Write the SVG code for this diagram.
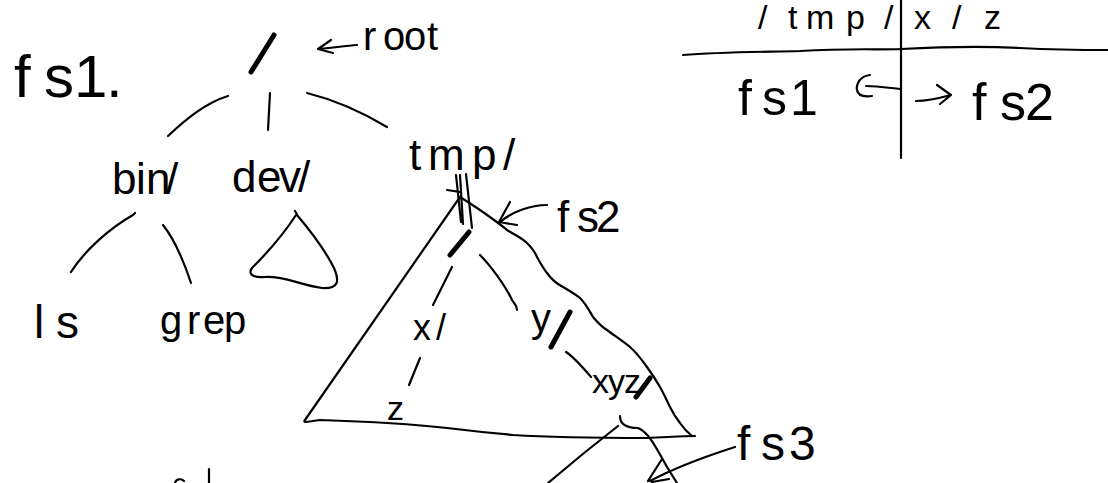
<svg xmlns="http://www.w3.org/2000/svg" width="1108" height="483" viewBox="0 0 1108 483">
<style>
.s{fill:none;stroke:#000;stroke-width:2.2;stroke-linecap:round;stroke-linejoin:round}
.k{stroke-width:5}
.t{font-family:"Liberation Sans",Arial,sans-serif;fill:#000}
</style>
<rect width="1108" height="483" fill="#fff"/>
<g id="label-fs1"><text class="t" font-size="60" x="14 44 74 106" y="97">fs1.</text></g>
<g id="node-root">
<path class="s k" d="M251 72 L274 35"/>
<text class="t" font-size="40" x="363 383 404 427" y="50">root</text>
<path class="s" d="M357 45 C345 46 330 48 318 49 M331 40 L318 49 L333 53"/>
</g>
<g id="node-bin"><text class="t" font-size="44" x="112 136 146 166" y="194">bin/</text></g>
<g id="node-dev"><text class="t" font-size="44" x="232 257 279 298" y="192">dev/</text></g>
<g id="node-tmp"><text class="t" font-size="44" x="409 428 472 503" y="170">tmp/</text></g>
<g id="node-ls"><text class="t" font-size="46" x="34 56" y="338">ls</text></g>
<g id="node-grep"><text class="t" font-size="40" x="160 187 203 224" y="334">grep</text></g>
<g id="node-dev-subtree"><path class="s" d="M295 211 C297 214 297 215 296 215 C285 232 268 252 252 268 C247 275 255 278 265 277 C285 276 300 285 322 288 C338 289 340 282 334 268 C324 248 308 228 297 215"/></g>
<g id="node-fs2">
<path class="s" d="M460 197 L305 420 C302 424 310 421 320 420 C380 422 420 425 447 428 C480 432 513 435 513 435 C560 438 620 438 647 438 C670 437 685 436 695 436"/>
<path class="s" d="M460 197 C468 202 474 206 480 210 C490 217 500 224 507 230 C515 235 522 238 527 243 C532 248 535 252 537 257 C541 264 543 268 547 273 C552 280 557 284 563 287 C570 291 575 294 580 298 C586 304 589 310 593 317 C598 323 602 327 607 330 C615 336 623 341 630 347 C637 353 642 360 647 367 C652 374 656 380 660 387 C664 394 667 401 670 407 C673 413 676 418 680 423 C684 429 687 432 692 436"/>
<path class="s" d="M456 175 L461 222 M460 175 L463 224 M466 174 L472 228 M447 190 L460 192"/>
<path class="s k" d="M450 255 L469 232"/>
<text class="t" font-size="44" x="557 577 596" y="232">fs2</text>
<path class="s" d="M547 205 C530 205 512 212 500 222 M510 202 L499 222 L517 225"/>
</g>
<g id="node-x"><text class="t" font-size="36" x="413 436" y="340">x/</text></g>
<g id="node-z"><text class="t" font-size="34" x="387" y="420">z</text></g>
<g id="node-y"><text class="t" font-size="40" x="531" y="332">y</text><path class="s k" d="M570 312 L551 347"/></g>
<g id="node-xyz"><text class="t" font-size="34" x="592 608 624" y="393">xyz</text><path class="s k" d="M650 378 L636 397"/></g>
<g id="node-fs3">
<path class="s" d="M620 416 C620 425 628 428 638 428 C648 432 655 445 667 467 L677 483 M618 426 C600 440 575 460 548 483"/>
<text class="t" font-size="48" x="737 761 789" y="460">fs3</text>
<path class="s" d="M735 447 C710 455 680 465 650 481 M662 459 L648 481 M669 479 L652 482"/>
</g>
<g id="connectors">
<path class="s" d="M228 96 C205 103 185 120 168 136"/>
<path class="s" d="M270 93 L268 130"/>
<path class="s" d="M307 93 C335 100 362 112 387 127"/>
<path class="s" d="M135 213 L133 215 C110 228 85 250 71 272"/>
<path class="s" d="M163 225 C175 240 185 265 191 283"/>
<path class="s" d="M452 267 L433 305 M420 358 L409 385"/>
<path class="s" d="M480 255 C490 265 505 285 512 300 C515 305 517 305 517 310"/>
<path class="s" d="M566 352 C575 358 585 370 591 377"/>
</g>
<g id="table">
<text class="t" font-size="34" x="758 788 806 846 884 914 952 984" y="29">/tmp/x/z</text>
<path class="s" d="M901 0 L901 158"/>
<path class="s" d="M683 55 C720 52 760 52 800 51 C850 48 880 50 901 49 C940 47 980 46 1020 48 C1060 50 1090 50 1108 50"/>
<text class="t" font-size="50" x="738 762 790" y="115">fs1</text>
<path class="s" d="M900 89 C890 88 878 86 866 86 M870 75 C860 76 856 84 857 90 C858 96 865 97 872 96"/>
<path class="s" d="M916 101 C925 101 940 98 951 95 M937 85 L951 95 L940 104"/>
<text class="t" font-size="52" x="972 1000 1025" y="120">fs2</text>
</g>
<g id="partial"><path class="s" d="M209 469 L209 483 M175 483 C176 479 181 478 184 481"/></g>
</svg>
